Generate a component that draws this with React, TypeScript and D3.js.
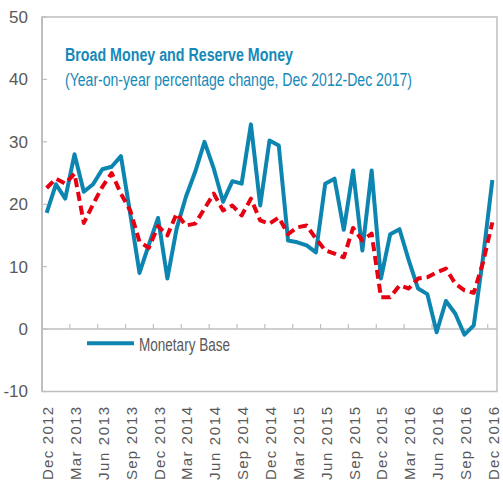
import React from "react";
import * as d3 from "d3";

const months: string[] = [
  "Dec 2012","Jan 2013","Feb 2013","Mar 2013","Apr 2013","May 2013","Jun 2013","Jul 2013","Aug 2013","Sep 2013","Oct 2013","Nov 2013",
  "Dec 2013","Jan 2014","Feb 2014","Mar 2014","Apr 2014","May 2014","Jun 2014","Jul 2014","Aug 2014","Sep 2014","Oct 2014","Nov 2014",
  "Dec 2014","Jan 2015","Feb 2015","Mar 2015","Apr 2015","May 2015","Jun 2015","Jul 2015","Aug 2015","Sep 2015","Oct 2015","Nov 2015",
  "Dec 2015","Jan 2016","Feb 2016","Mar 2016","Apr 2016","May 2016","Jun 2016","Jul 2016","Aug 2016","Sep 2016","Oct 2016","Nov 2016",
  "Dec 2016",
];

const monetaryBase: number[] = [
  18.6, 23.2, 20.9, 28.0, 22.0, 23.2, 25.6, 26.0, 27.7, 18.5, 9.0, 13.5,
  17.8, 8.1, 16.1, 21.2, 25.2, 30.0, 25.7, 20.4, 23.7, 23.3, 32.8, 19.8,
  30.2, 29.4, 14.2, 13.9, 13.4, 12.3, 23.3, 24.1, 15.9, 25.4, 12.6, 25.4,
  8.1, 15.2, 16.0, 11.0, 6.5, 5.6, -0.5, 4.5, 2.5, -0.9, 0.6, 11.5,
  23.9,
];

const broadMoney: number[] = [
  22.6, 24.1, 23.3, 24.9, 17.0, 20.0, 22.8, 25.0, 21.7, 19.0, 14.0, 13.0,
  16.5, 15.0, 18.5, 16.6, 16.9, 19.3, 21.7, 19.0, 19.8, 18.2, 20.9, 17.4,
  16.9, 17.9, 15.2, 16.3, 16.6, 14.5, 12.6, 12.1, 11.5, 16.2, 14.2, 15.3,
  5.1, 5.1, 7.0, 6.5, 8.1, 8.3, 9.1, 9.7, 7.3, 6.2, 5.8, 10.7,
  17.1,
];

const yTicks: number[] = [-10, 0, 10, 20, 30, 40, 50];

const titleText = "Broad Money and Reserve Money";
const subtitleText = "(Year-on-year percentage change, Dec 2012-Dec 2017)";
const legendLabel = "Monetary Base";

const W = 503;
const H = 484;
const BLUE = "#0d85b1";
const RED = "#e60012";
const TITLE = "#1589b8";
const GRAY = "#595959";
const AXIS = "#bfbfbf";
const FONT = "'Liberation Sans Narrow', 'Liberation Sans', Arial, sans-serif";

export default function App() {
  const left = 42, right = 497, top = 17, bottom = 391.5;
  const x = d3.scaleBand<number>().domain(d3.range(months.length)).range([left, right]).padding(0);
  const bw = x.bandwidth();
  const cx = (i: number) => (x(i) as number) + bw / 2;
  const y = d3.scaleLinear().domain([-10, 50]).range([bottom, top]);

  const line = d3.line<number>().x((_, i) => cx(i)).y((d) => y(d));

  const labelIdx = d3.range(0, months.length, 3);
  const tickIdx = d3.range(3, months.length, 3);
  const y0 = y(0);

  return (
    <svg width={W} height={H} style={{ position: "absolute", left: 0, top: 0, background: "#fff" }}
      fontFamily={FONT}>
      <rect x={left} y={top} width={right - left} height={bottom - top} fill="none" stroke={AXIS} strokeWidth={1.5} />
      <line x1={left} x2={left} y1={top} y2={bottom} stroke={AXIS} strokeWidth={2} />
      {yTicks.map((t) => (
        <g key={t}>
          <line x1={left} x2={left + 5} y1={y(t)} y2={y(t)} stroke={AXIS} strokeWidth={1.2} />
          <text x={28} y={y(t)} dy="0.35em" textAnchor="end" fontSize={17} fill={GRAY}>{t}</text>
        </g>
      ))}
      <line x1={left} x2={right} y1={y0} y2={y0} stroke={AXIS} strokeWidth={1.5} />
      {tickIdx.map((i) => (
        <line key={i} x1={x(i) as number} x2={x(i) as number} y1={y0} y2={y0 - 5} stroke={AXIS} strokeWidth={1.2} />
      ))}
      {labelIdx.map((i) => (
        <text key={i} transform={`translate(${cx(i) + 6.5},407) rotate(-90)`} textAnchor="end"
          fontSize={15} textLength={73} lengthAdjust="spacing" fill={GRAY}>{months[i]}</text>
      ))}
      <text x={65} y={61} fontSize={18} fontWeight="bold" fill={TITLE} textLength={228} lengthAdjust="spacingAndGlyphs">{titleText}</text>
      <text x={65} y={86} fontSize={17.5} fill={TITLE} textLength={347} lengthAdjust="spacingAndGlyphs">{subtitleText}</text>
      <path d={line(monetaryBase) || ""} fill="none" stroke={BLUE} strokeWidth={4} strokeLinejoin="round" />
      <path d={line(broadMoney) || ""} fill="none" stroke={RED} strokeWidth={4} strokeDasharray="9,5" strokeLinejoin="round" />
      <line x1={87} x2={134} y1={343.3} y2={343.3} stroke={BLUE} strokeWidth={4} />
      <text x={139} y={351} fontSize={17.5} fill={GRAY} textLength={91} lengthAdjust="spacingAndGlyphs">{legendLabel}</text>
    </svg>
  );
}
